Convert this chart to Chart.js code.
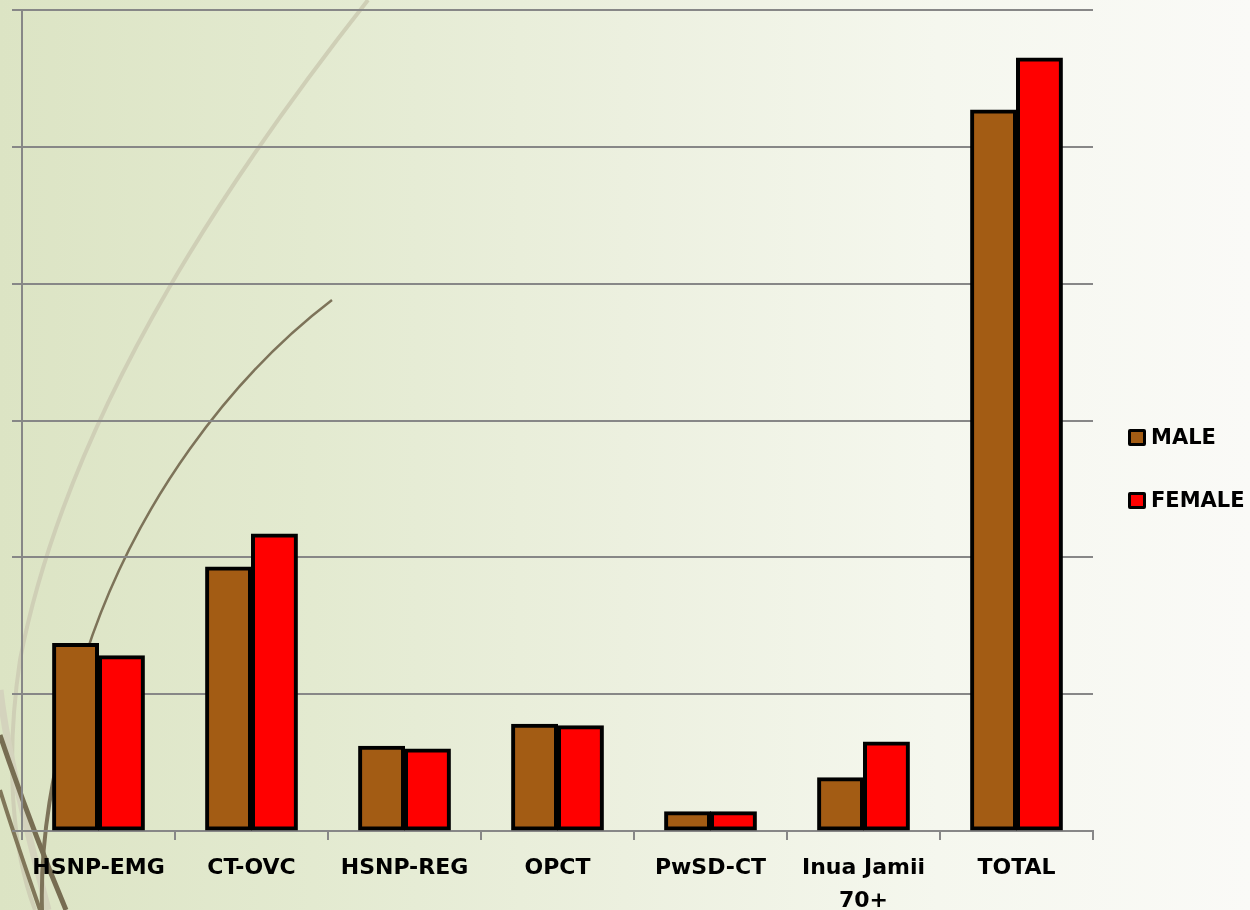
<!DOCTYPE html>
<html>
<head>
<meta charset="utf-8">
<script src="https://cdn.jsdelivr.net/npm/chart.js@4.4.1/dist/chart.umd.min.js"></script>
<style>
  html, body { margin: 0; padding: 0; }
  body {
    width: 1250px; height: 910px; overflow: hidden; position: relative;
    background: linear-gradient(to right, #dce4c4 0%, #e3ead0 25%, #ecf0df 50%, #f5f7ee 75%, #fafaf7 100%);
    font-family: "DejaVu Sans", sans-serif;
  }
  #deco { position: absolute; left: 0; top: 0; }
  #wrap { position: absolute; left: 0; top: 0; width: 1250px; height: 910px; }
  #legend { position: absolute; left: 1128px; top: 425px; }
  .item { display: flex; align-items: center; height: 24px; margin-bottom: 39px; }
  .swatch { width: 12px; height: 11px; border: 3.5px solid #000; border-radius: 2px; margin-right: 5px; }
  .label { font: bold 21px "DejaVu Sans", sans-serif; color: #000; }
</style>
</head>
<body>
<!-- decorative swooshes behind the chart -->
<svg id="deco" width="1250" height="910" viewBox="0 0 1250 910">
  <path d="M368 0 C 250 150, 70 400, 20 660 C 5 760, 12 850, 35 910" fill="none" stroke="#cfcfb6" stroke-width="4"/>
  <path d="M 0 690 C 8 760, 30 840, 48 910" fill="none" stroke="#d4d3bd" stroke-width="7"/>
  <path d="M332 300 C 240 370, 130 500, 78 680" fill="none" stroke="#7d7359" stroke-width="2.5"/>
  <path d="M78 680 C 52 770, 40 840, 42 910" fill="none" stroke="#7d7359" stroke-width="4"/>
  <path d="M 0 735 C 22 800, 45 860, 66 910" fill="none" stroke="#776d52" stroke-width="5"/>
  <path d="M 0 790 C 14 835, 28 875, 40 910" fill="none" stroke="#807659" stroke-width="4"/>
</svg>
<div id="wrap"><canvas id="c" width="1250" height="910"></canvas></div>
<div id="legend"></div>
<script>
// Beneficiaries per programme, split by sex
const categories = ['HSNP-EMG', 'CT-OVC', 'HSNP-REG', 'OPCT', 'PwSD-CT', ['Inua Jamii', '70+'], 'TOTAL'];
const seriesNames = ['MALE', 'FEMALE'];
const maleValues = [137, 193, 62, 78, 14, 39, 527];
const femaleValues = [128, 217, 60, 77, 14, 65, 565];
const seriesColors = ['#a35c14', '#ff0000'];
const yTicks = { min: 0, max: 600, step: 100 };

const axisGray = '#878787';

const chart = new Chart(document.getElementById('c'), {
  type: 'bar',
  data: {
    labels: categories,
    datasets: [
      { label: seriesNames[0], data: maleValues, backgroundColor: seriesColors[0] },
      { label: seriesNames[1], data: femaleValues, backgroundColor: seriesColors[1] }
    ]
  },
  options: {
    responsive: false,
    animation: false,
    layout: { padding: { left: 12, top: 10, right: 157, bottom: 0 } },
    datasets: {
      bar: {
        borderColor: '#000',
        borderWidth: 4,
        borderSkipped: false,
        inflateAmount: 0.5,
        categoryPercentage: 0.6,
        barPercentage: 1.0
      }
    },
    plugins: {
      legend: { display: false },
      tooltip: { enabled: false }
    },
    scales: {
      x: {
        grid: { drawOnChartArea: false, drawTicks: true, tickLength: 9, color: axisGray, lineWidth: 2 },
        border: { display: true, color: axisGray, width: 2 },
        ticks: {
          padding: 12,
          color: '#000',
          maxRotation: 0,
          autoSkip: false,
          font: { family: 'DejaVu Sans', weight: 'bold', size: 22, lineHeight: 1.5 }
        },
        afterFit(scale) { scale.height = 79; }
      },
      y: {
        min: yTicks.min,
        max: yTicks.max,
        grid: { color: axisGray, lineWidth: 2, drawTicks: true, tickLength: 10 },
        border: { display: true, color: axisGray, width: 2 },
        ticks: { display: false, stepSize: yTicks.step },
        afterFit(scale) { scale.width = 10; }
      }
    }
  }
});

// Legend beside the plot, built from the dataset names and colours
const legendEl = document.getElementById('legend');
seriesNames.forEach((name, i) => {
  const row = document.createElement('div');
  row.className = 'item';
  const sw = document.createElement('div');
  sw.className = 'swatch';
  sw.style.background = seriesColors[i];
  const tx = document.createElement('span');
  tx.className = 'label';
  tx.textContent = name;
  row.appendChild(sw);
  row.appendChild(tx);
  legendEl.appendChild(row);
});
</script>
</body>
</html>
